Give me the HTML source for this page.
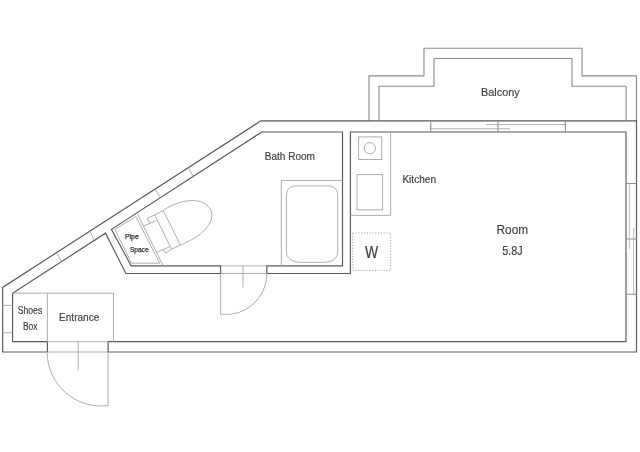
<!DOCTYPE html>
<html><head><meta charset="utf-8">
<style>
html,body{margin:0;padding:0;background:#fff;}
body{width:640px;height:452px;overflow:hidden;font-family:"Liberation Sans",sans-serif;}
svg{display:block;will-change:transform;opacity:0.999;}
text{font-family:"Liberation Sans",sans-serif;fill:#404040;stroke:#404040;stroke-width:0.18;}
.sm{fill:#333;stroke:#333;stroke-width:0.25;}
.w{stroke:#585858;stroke-width:1.15;fill:none;stroke-linejoin:miter;}
.b{stroke:#8a8a8a;stroke-width:1.1;fill:none;}
.t{stroke:#a6a6a6;stroke-width:0.9;fill:none;}
.d{stroke:#999;stroke-width:0.9;fill:none;stroke-dasharray:1.2 1.6;}
</style></head><body>
<svg width="640" height="452" viewBox="0 0 640 452">
<rect width="640" height="452" fill="#fff"/>

<!-- balcony -->
<path class="b" d="M369,121 V75.85 H424 V48.25 H582 V75.85 H636.5 V121"/>
<path class="b" d="M379,121 V86.3 H434 V58.5 H572 V86.3 H626.1 V121"/>

<!-- outer wall -->
<path class="w" d="M47.4,352 H2.65 V287.4 L260.9,120.8 H636.5 V352 H108.1"/>
<!-- inner wall: hall + room -->
<path class="w" d="M47.4,341.65 H12.55 V293.3 L105.5,233.17 L125.9,273.5 H220.6 V265.9 H131.2 L111.45,229.32 L261.8,132 H342.5 V265.9 H266.8 V273.5 H350.4 V132 H626 V341.65 H108.1 V352"/>
<path class="w" d="M47.4,341.65 V352"/>

<!-- thin: wall ticks on diagonal -->
<path class="t" d="M57,253.1 L61.25,261.5 M90,231.8 L94.5,240 M155.5,189.5 L160,197.8 M188.75,168 L193,176.5"/>
<!-- left wall ticks -->
<path class="t" d="M2.65,305.4 H12.55 M2.65,332.75 H12.55"/>

<!-- entrance -->
<path class="t" d="M12.55,293.2 H113.5 V341.65 M47.4,293.2 V341.65"/>
<path class="t" d="M47.4,341.65 H108.1 M47.4,352 H108.1"/>
<path class="t" d="M108.1,352 V406 M78.2,341.65 V370.2"/>
<path class="t" d="M47.17,352.05 A53.95,53.95 0 0 0 108.1,405.55"/>

<!-- bath door -->
<path class="t" d="M220.6,265.9 H266.8 M220.6,273.5 H266.8"/>
<path class="t" d="M220.6,273.5 V314.5 M243,265.9 V287.5"/>
<path class="t" d="M266.95,273.3 A41.09,41.09 0 0 1 220.7,314.27"/>

<!-- bathtub -->
<path class="t" d="M281.3,265.9 V180.5 H342.5"/>
<path class="t" d="M286.4,197 C286.4,189.5 289,185.9 297.5,185.9 H326.7 C335.2,185.9 337.8,189.5 337.8,197 V250.5 C337.8,258.5 333,262.35 322,262.35 H302.2 C291.2,262.35 286.4,258.5 286.4,250.5 Z"/>

<!-- pipe space -->
<path class="t" d="M114.9,229.3 L135.9,216.6 L159.7,263.2 H131.4 Z"/>
<path class="t" d="M137.6,214.3 L163.0,265.4"/>

<!-- toilet -->
<path class="t" d="M154.75,214.9 L163.1,210.5 L180.5,245.1 L171.5,249.2 Z"/>
<path class="t" d="M163.2,210.5 C164.5,209.7 167.8,207.3 170.9,205.9 C174.0,204.5 177.8,202.9 181.6,202.0 C185.4,201.1 190.0,200.5 193.5,200.6 C197.0,200.7 200.1,201.4 202.8,202.6 C205.5,203.8 208.0,205.9 209.5,207.9 C211.0,209.9 211.7,212.2 211.8,214.6 C211.9,217.0 211.4,219.8 210.1,222.5 C208.8,225.2 206.6,227.9 204.1,230.5 C201.6,233.1 198.7,235.4 194.8,237.8 C190.9,240.2 183.0,243.9 180.6,245.1"/>
<path class="t" d="M143.5,226.2 L156.3,220.5 M156.6,252.5 L169.5,246.8"/>
<path class="t" d="M154.75,214.9 L147.3,218.2 L149.75,223.3 M163.3,249.5 L165.5,253.2 L171.5,249.2"/>

<!-- kitchen -->
<path class="t" d="M390.6,132 V215.4 H350.4"/>
<rect class="t" x="358.6" y="136.9" width="23.1" height="22.6"/>
<circle class="t" cx="369.9" cy="148.2" r="5.6"/>
<rect class="t" x="357" y="174.6" width="25.6" height="35.2"/>
<rect class="d" x="352.8" y="233.0" width="37.8" height="37.3"/>

<!-- top window -->
<path class="b" d="M430.75,121.2 V132.2 M565.4,121.2 V132.2 M498,121.2 V132.2"/>
<path class="t" d="M486,124.5 H565.4 M430.75,128.75 H510"/>
<!-- right window -->
<path class="b" d="M626,183.5 H636.5 M626,239 H636.5 M626,294.3 H636.5"/>
<path class="t" style="stroke:#b4b4b4" d="M629.4,183.5 V248.8 M633.6,228 V294.3"/>

<!-- labels -->
<text x="481" y="95.7" font-size="11.6" textLength="38.7" lengthAdjust="spacingAndGlyphs">Balcony</text>
<text x="264.7" y="159.9" font-size="10.7" textLength="50.3" lengthAdjust="spacingAndGlyphs">Bath Room</text>
<text x="402.4" y="182.6" font-size="10.4" textLength="33.6" lengthAdjust="spacingAndGlyphs">Kitchen</text>
<text x="496.6" y="234.3" font-size="13" textLength="31.5" lengthAdjust="spacingAndGlyphs">Room</text>
<text x="502.3" y="255.35" font-size="12" textLength="20.2" lengthAdjust="spacingAndGlyphs">5.8J</text>
<text x="365.1" y="257.6" font-size="16" textLength="13.1" lengthAdjust="spacingAndGlyphs">W</text>
<text class="sm" x="124.9" y="239.2" font-size="7.3" textLength="14" lengthAdjust="spacingAndGlyphs">Pipe</text>
<text class="sm" x="129.9" y="251.5" font-size="7.3" textLength="18.7" lengthAdjust="spacingAndGlyphs">Space</text>
<text x="17.7" y="314.2" font-size="10.3" textLength="24.6" lengthAdjust="spacingAndGlyphs">Shoes</text>
<text x="22.9" y="330" font-size="10.3" textLength="14.6" lengthAdjust="spacingAndGlyphs">Box</text>
<text x="59" y="321" font-size="10.8" textLength="40.4" lengthAdjust="spacingAndGlyphs">Entrance</text>
</svg>
</body></html>
